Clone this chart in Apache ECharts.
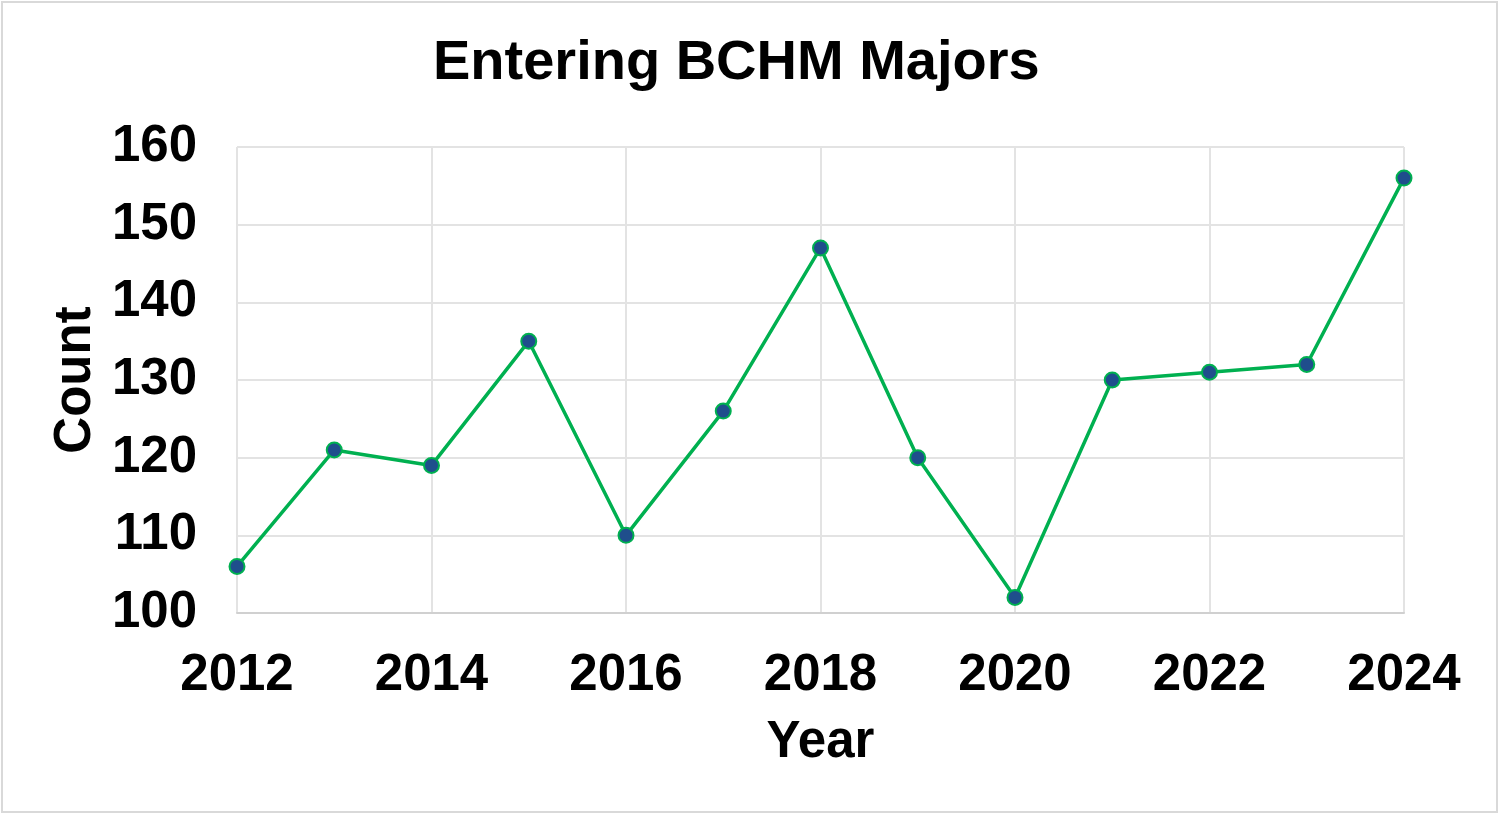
<!DOCTYPE html>
<html>
<head>
<meta charset="utf-8">
<script src="https://cdn.jsdelivr.net/npm/echarts@6/dist/echarts.min.js"></script>
<style>
html,body{margin:0;padding:0;background:#fff;}
#chart{width:1500px;height:814px;}
</style>
</head>
<body>
<div id="chart"></div>
<script>
const years = [2012, 2013, 2014, 2015, 2016, 2017, 2018, 2019, 2020, 2021, 2022, 2023, 2024];
const counts = [106, 121, 119, 135, 110, 126, 147, 120, 102, 130, 131, 132, 156];
const titleText = 'Entering BCHM Majors';
const xName = 'Year';
const yName = 'Count';

const seriesData = years.map((y, i) => [y, counts[i]]);
const FONT = '"Liberation Sans", Arial, sans-serif';

const chart = echarts.init(document.getElementById('chart'));
chart.setOption({
  backgroundColor: '#ffffff',
  animation: false,
  graphic: [{
    type: 'rect',
    shape: { x: 2, y: 2, width: 1495, height: 810 },
    style: { fill: 'none', stroke: '#d9d9d9', lineWidth: 2 },
    silent: true
  }],
  title: {
    text: titleText,
    left: 428,
    top: 31,
    textStyle: { fontFamily: FONT, fontWeight: 'bold', fontSize: 56, color: '#000' }
  },
  grid: { left: 237, right: 96, top: 147, bottom: 201, containLabel: false },
  xAxis: {
    type: 'value',
    min: 2012, max: 2024, interval: 2,
    name: xName,
    nameLocation: 'middle',
    nameGap: 104,
    nameTextStyle: { fontFamily: FONT, fontWeight: 'bold', fontSize: 51, color: '#000' },
    axisLine: { show: true, lineStyle: { color: '#d0d0d0', width: 2 } },
    axisTick: { show: false },
    axisLabel: { fontFamily: FONT, fontWeight: 'bold', fontSize: 51, color: '#000', margin: 37,
      formatter: v => String(v) },
    splitLine: { show: true, lineStyle: { color: '#e3e3e3', width: 2 } }
  },
  yAxis: {
    type: 'value',
    min: 100, max: 160, interval: 10,
    name: yName,
    nameLocation: 'middle',
    nameRotate: 90,
    nameGap: 135,
    nameTextStyle: { fontFamily: FONT, fontWeight: 'bold', fontSize: 51, color: '#000' },
    axisLine: { show: false },
    axisTick: { show: false },
    axisLabel: { fontFamily: FONT, fontWeight: 'bold', fontSize: 51, color: '#000', margin: 40 },
    splitLine: { show: true, lineStyle: { color: '#e3e3e3', width: 2 } }
  },
  series: [{
    type: 'line',
    data: seriesData,
    symbol: 'circle',
    symbolSize: 15,
    lineStyle: { color: '#00b050', width: 3.5 },
    itemStyle: { color: '#1f4e8c', borderColor: '#00b050', borderWidth: 2 },
    z: 3
  }]
});
</script>
</body>
</html>
